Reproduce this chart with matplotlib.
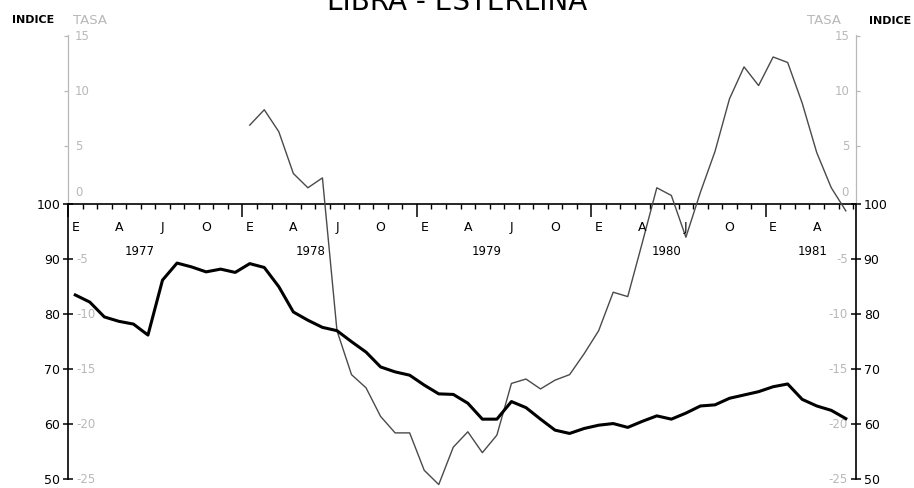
import numpy as np
import matplotlib.pyplot as plt

# monthly values, Jan 1977 - Jun 1981
indice = [83.5, 82.2, 79.5, 78.7, 78.2, 76.2, 86.2, 89.3, 88.6, 87.7, 88.2, 87.6,
          89.2, 88.5, 85.0, 80.4, 78.9, 77.6, 77.0, 75.0, 73.1, 70.4, 69.5, 68.9,
          67.1, 65.5, 65.4, 63.8, 60.9, 60.9, 64.1, 63.0, 60.9, 58.9, 58.3, 59.2,
          59.8, 60.1, 59.4, 60.5, 61.5, 60.9, 62.0, 63.3, 63.5, 64.7, 65.3, 65.9,
          66.8, 67.3, 64.5, 63.3, 62.5, 61.0]

# tasa starts Jan 1978
tasa_start = 12
tasa = [7.2, 8.6, 6.6, 2.8, 1.5, 2.4, -11.5, -15.5, -16.7, -19.3, -20.8, -20.8,
        -24.2, -25.5, -22.1, -20.7, -22.6, -21.0, -16.3, -15.9, -16.8, -16.0, -15.5, -13.6,
        -11.5, -8.0, -8.4, -3.5, 1.5, 0.8, -3.0, 1.1, 4.8, 9.6, 12.5, 10.8,
        13.4, 12.9, 9.2, 4.7, 1.5, -0.6]

month_letters = ['E', 'A', 'J', 'O']
years = ['1977', '1978', '1979', '1980', '1981']
year_pos = [4.9, 16.7, 28.8, 41.2, 51.2]

indice_ticks = [50, 60, 70, 80, 90, 100]
tasa_low = [-5, -10, -15, -20, -25]
tasa_high = [0, 5, 10, 15]

GRAY = '#b8b8b8'


def tasa_to_indice(t):
    return 100 + 2 * np.asarray(t, dtype=float)


W, H = 914, 488
fig = plt.figure(figsize=(W / 100, H / 100), dpi=100)
ax = fig.add_axes([68 / W, 0.7 / H, (856 - 68) / W, (487.3 - 35) / H])
ax.set_xlim(0, 54.2)
ax.set_ylim(48.5, 130.8)

x_ind = np.arange(len(indice)) + 0.5
x_tasa = np.arange(len(tasa)) + tasa_start + 0.5
ax.plot(x_tasa, tasa_to_indice(tasa), color='#4a4a4a', lw=1.0, zorder=3)
ax.plot(x_ind, indice, color='black', lw=2.2, zorder=4, solid_joinstyle='round')

# axes frame: x axis sits at indice 100
ax.spines['top'].set_visible(False)
ax.spines['bottom'].set_position(('data', 100))
ax.spines['bottom'].set_linewidth(1.2)
for s in ['left', 'right']:
    ax.spines[s].set_bounds(50, 100)
    ax.spines[s].set_linewidth(1.2)
ylo, yhi = ax.get_ylim()
y0 = (100 - ylo) / (yhi - ylo)
for xe in ax.get_xlim():
    ax.axvline(xe, ymin=y0, ymax=1, color=GRAY, lw=0.9, clip_on=False)

ax.set_xticks(np.arange(0, 55, 12))
ax.set_xticks(np.arange(0, 55), minor=True)
ax.tick_params(axis='x', which='major', direction='out', length=9, width=1.1, labelbottom=False)
ax.tick_params(axis='x', which='minor', direction='out', length=3.5, width=1.0)

ax.set_yticks(indice_ticks)
ax.yaxis.set_ticks_position('both')
ax.tick_params(axis='y', direction='inout', length=7, width=1.1, labelsize=9,
               labelright=True, pad=2)

# month letters and years
for q in range(0, 52, 3):
    ax.text(q + 0.5, 95.8, month_letters[(q // 3) % 4], ha='center', va='center', fontsize=9)
for p, yr in zip(year_pos, years):
    ax.text(p, 91.45, yr, ha='center', va='center', fontsize=8.5)

# tasa scale labels, inside both vertical axes
for t in tasa_low:
    yv = float(tasa_to_indice(t))
    ax.annotate(str(t), xy=(0, yv), xycoords=('axes fraction', 'data'), xytext=(6, 0),
                textcoords='offset points', ha='left', va='center', color=GRAY, fontsize=8.5)
    ax.annotate(str(t), xy=(1, yv), xycoords=('axes fraction', 'data'), xytext=(-6, 0),
                textcoords='offset points', ha='right', va='center', color=GRAY, fontsize=8.5)
for t in tasa_high:
    yv = float(tasa_to_indice(t)) + 0.6
    dy = 6 if t == 0 else 0
    ax.annotate(str(t), xy=(0, yv), xycoords=('axes fraction', 'data'), xytext=(5, dy),
                textcoords='offset points', ha='left', va='center', color=GRAY, fontsize=8.5)
    ax.annotate(str(t), xy=(1, yv), xycoords=('axes fraction', 'data'), xytext=(-5, dy),
                textcoords='offset points', ha='right', va='center', color=GRAY, fontsize=8.5)
    if t > 0:
        ax.plot(0, yv, marker=0, ms=3, color=GRAY, mew=0.9, clip_on=False,
                transform=ax.get_yaxis_transform())
        ax.plot(1, yv, marker=1, ms=3, color=GRAY, mew=0.9, clip_on=False,
                transform=ax.get_yaxis_transform())

# headers
fig.text(12 / W, 1 - 20 / H, 'INDICE', ha='left', va='center', fontsize=8, fontweight='bold')
fig.text(73 / W, 1 - 20 / H, 'TASA', ha='left', va='center', fontsize=9.5, color=GRAY)
fig.text(807 / W, 1 - 21 / H, 'TASA', ha='left', va='center', fontsize=9.5, color=GRAY)
fig.text(869 / W, 1 - 21 / H, 'INDICE', ha='left', va='center', fontsize=8, fontweight='bold')
fig.text(457.5 / W, 1 - 9.5 / H, 'LIBRA - ESTERLINA', ha='center', va='baseline', fontsize=20)

fig.savefig('out.png', dpi=100)
